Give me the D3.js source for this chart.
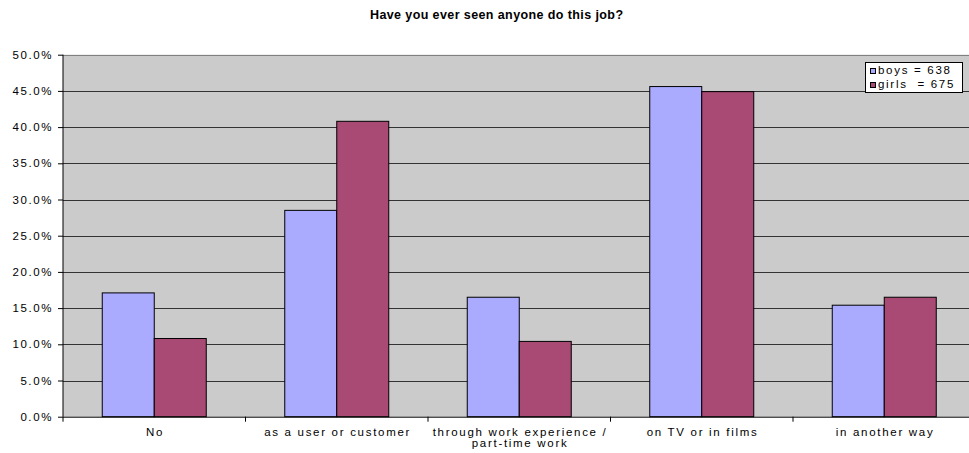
<!DOCTYPE html>
<html><head><meta charset="utf-8">
<script src="https://cdn.jsdelivr.net/npm/d3@7/dist/d3.min.js"></script>
<style>body{margin:0;background:#fff;}svg{display:block;font-family:"Liberation Sans",Arial,sans-serif;}</style>
</head><body>
<script>
const title = "Have you ever seen anyone do this job?";
const categories = ["No", "as a user or customer", "through work experience / part-time work", "on TV or in films", "in another way"];
const categoryLines = [["No"], ["as a user or customer"], ["through work experience /", "part-time work"], ["on TV or in films"], ["in another way"]];
const seriesNames = ["boys = 638", "girls  = 675"];
const boys = [17.1, 28.5, 16.5, 45.6, 15.4];
const girls = [10.8, 40.8, 10.4, 44.9, 16.5];
const yTicks = [0, 5, 10, 15, 20, 25, 30, 35, 40, 45, 50];
const colors = ["#aaaaff", "#a84a74"];

const W = 969, H = 453;
const pL = 63, pT = 54.7, pB = 416.7, pR = 63 + 5 * 182.5;
const LS = 1.7;
const svg = d3.select("body").append("svg").attr("width", W).attr("height", H);
svg.append("rect").attr("width", W).attr("height", H).attr("fill", "#fff");

const y = d3.scaleLinear().domain([0, 50]).range([pB, pT]);
const x0 = d3.scaleBand().domain(categories).range([pL, pR]).paddingInner(0).paddingOuter(0);
const x1 = d3.scaleBand().domain([0, 1]).range([39.25, 182.5 - 39.25]);

// plot area
svg.append("rect").attr("x", pL).attr("y", pT).attr("width", pR - pL).attr("height", pB - pT).attr("fill", "#cbcbcb");

// gridlines
svg.append("g").selectAll("line").data(yTicks.slice(1)).join("line")
  .attr("x1", pL).attr("x2", pR)
  .attr("y1", d => Math.round(y(d)) + 0.5).attr("y2", d => Math.round(y(d)) + 0.5)
  .attr("stroke", d => d === 50 ? "#808080" : "#333").attr("stroke-width", 1);

// bars
const data = categories.map((c, i) => ({c, v: [boys[i], girls[i]]}));
const g = svg.append("g");
data.forEach(d => {
  d.v.forEach((v, s) => {
    g.append("rect")
      .attr("x", x0(d.c) + x1(s)).attr("y", y(v))
      .attr("width", x1.bandwidth()).attr("height", pB - y(v))
      .attr("fill", colors[s]).attr("stroke", "#000").attr("stroke-width", 1);
  });
});

// y axis
const yAxis = d3.axisLeft(y).tickValues(yTicks).tickSize(5).tickPadding(5).tickFormat(d => d.toFixed(1) + "%");
const ya = svg.append("g").attr("transform", `translate(${pL},0)`).call(yAxis);
ya.select(".domain").attr("stroke", "#000").attr("d", `M0,${pT}V${pB}`);
ya.selectAll(".tick line").attr("stroke", "#000");
ya.selectAll("text").attr("font-size", 11.5).attr("fill", "#000").attr("letter-spacing", 1.6)
  .attr("font-family", "Liberation Sans, Arial, sans-serif");

// x axis
const xa = svg.append("g").attr("transform", `translate(0,${pB})`);
xa.append("line").attr("x1", pL).attr("x2", pR).attr("y1", 0.5).attr("y2", 0.5).attr("stroke", "#000");
xa.selectAll("line.tk").data(d3.range(0, 6)).join("line").attr("class", "tk")
  .attr("x1", i => pL + i * x0.bandwidth()).attr("x2", i => pL + i * x0.bandwidth())
  .attr("y1", 0).attr("y2", 5).attr("stroke", "#000");
categories.forEach((c, i) => {
  const cx = x0(c) + x0.bandwidth() / 2 + LS / 2;
  const t = xa.append("text").attr("x", cx).attr("y", 19.3)
    .attr("text-anchor", "middle").attr("font-size", 11.5).attr("letter-spacing", LS).attr("fill", "#000");
  categoryLines[i].forEach((ln, k) => t.append("tspan").attr("x", cx).attr("dy", k ? 11 : 0).text(ln));
});

// title
svg.append("text").attr("x", 496.7).attr("y", 19).attr("text-anchor", "middle")
  .attr("font-size", 12.5).attr("font-weight", "bold").attr("letter-spacing", 0.4).text(title);

// legend
const lg = svg.append("g").attr("transform", "translate(865.5,62.5)");
lg.append("rect").attr("width", 97).attr("height", 30).attr("fill", "#fff").attr("stroke", "#000");
seriesNames.forEach((n, i) => {
  lg.append("rect").attr("x", 5).attr("y", 6 + i * 14).attr("width", 5).attr("height", 5)
    .attr("fill", colors[i]).attr("stroke", "#000");
  lg.append("text").attr("x", 12.5).attr("y", 11.5 + i * 13.7).attr("font-size", 11.5).attr("letter-spacing", 1.7)
    .text(n).style("white-space", "pre");
});
</script>
</body></html>
